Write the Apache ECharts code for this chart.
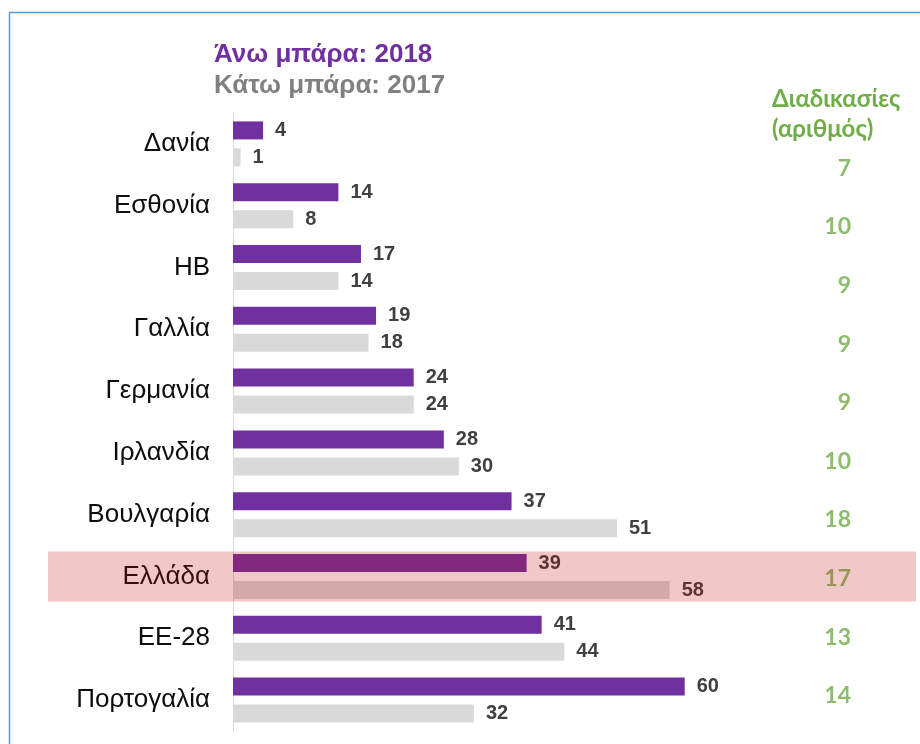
<!DOCTYPE html>
<html>
<head>
<meta charset="utf-8">
<script src="https://cdn.jsdelivr.net/npm/echarts@6/dist/echarts.min.js"></script>
<style>
    html, body { margin: 0; padding: 0; background: #fff; }
    #chart { width: 920px; height: 744px; }
</style>
</head>
<body>
<div id="chart"></div>
<script>
const countries = ['Δανία', 'Εσθονία', 'ΗΒ', 'Γαλλία', 'Γερμανία', 'Ιρλανδία', 'Βουλγαρία', 'Ελλάδα', 'ΕΕ-28', 'Πορτογαλία']
const values2018 = [4, 14, 17, 19, 24, 28, 37, 39, 41, 60]
const values2017 = [1, 8, 14, 18, 24, 30, 51, 58, 44, 32]
const procedures = [7, 10, 9, 9, 9, 10, 18, 17, 13, 14]
const highlight = 'Ελλάδα'

const myChart = echarts.init(document.getElementById('chart'))

const valueLabel = {
    show: true,
    position: 'right',
    distance: 12,
    color: '#404040',
    fontFamily: 'Liberation Sans',
    fontWeight: 'bold',
    fontSize: 20
}

const option = {
    animation: false,
    backgroundColor: '#fff',
    title: [
        {
            text: 'Άνω μπάρα: 2018',
            left: 209,
            top: 37,
            textStyle: { color: '#7030A0', fontSize: 26, fontWeight: 'bold', fontFamily: 'Liberation Sans' }
        },
        {
            text: 'Κάτω μπάρα: 2017',
            left: 209,
            top: 68,
            textStyle: { color: '#808080', fontSize: 26, fontWeight: 'bold', fontFamily: 'Liberation Sans' }
        },
        {
            text: 'Διαδικασίες\n(αριθμός)',
            left: 767,
            top: 79,
            textStyle: { color: '#70AD47', fontSize: 24, fontWeight: 'bold', fontFamily: 'Lato', lineHeight: 30 }
        }
    ],
    grid: [
        { left: 233, width: 527, top: 113, height: 618 },
        { left: 780, width: 100, top: 139, height: 586 }
    ],
    xAxis: [
        { type: 'value', gridIndex: 0, min: 0, max: 70, show: false },
        { type: 'value', gridIndex: 1, min: 0, max: 1, show: false }
    ],
    yAxis: [
        {
            type: 'category',
            gridIndex: 0,
            inverse: true,
            data: countries,
            axisLine: { show: true, lineStyle: { color: '#D9D9D9', width: 1 } },
            axisTick: { show: false },
            axisLabel: {
                margin: 23,
                color: '#0D0D0D',
                fontSize: 26,
                fontFamily: 'Liberation Sans'
            }
        },
        {
            type: 'category',
            gridIndex: 1,
            inverse: true,
            data: countries,
            show: false
        }
    ],
    series: [
        {
            name: '2018',
            type: 'bar',
            data: values2018,
            barWidth: 18,
            barGap: '50%',
            itemStyle: { color: '#7030A0' },
            label: valueLabel
        },
        {
            name: '2017',
            type: 'bar',
            data: values2017,
            barWidth: 18,
            itemStyle: { color: '#D9D9D9' },
            label: valueLabel
        },
        {
            name: 'Διαδικασίες',
            type: 'scatter',
            xAxisIndex: 1,
            yAxisIndex: 1,
            symbolSize: 0,
            data: procedures.map((val, i) => [0.71, countries[i], val]),
            label: {
                show: true,
                position: 'left',
                distance: 0,
                formatter: p => p.value[2],
                color: '#70AD47',
                fontFamily: 'Lato',
                fontWeight: 'bold',
                fontSize: 23
            }
        }
    ]
}

myChart.setOption(option)

// highlight band for Greece, placed from the category axis
const hy = myChart.convertToPixel({ yAxisIndex: 0 }, highlight)
myChart.setOption({
    graphic: [
        {
            type: 'rect',
            z: 100,
            shape: { x: 48, y: hy - 25, width: 868, height: 50 },
            style: { fill: 'rgba(191,17,17,0.23)' }
        },
        {
            type: 'rect',
            z: 101,
            shape: { x: 9.5, y: 12.5, width: 940, height: 760 },
            style: { fill: 'none', stroke: '#5B9BD5', lineWidth: 1.5 }
        }
    ]
})
</script>
</body>
</html>
